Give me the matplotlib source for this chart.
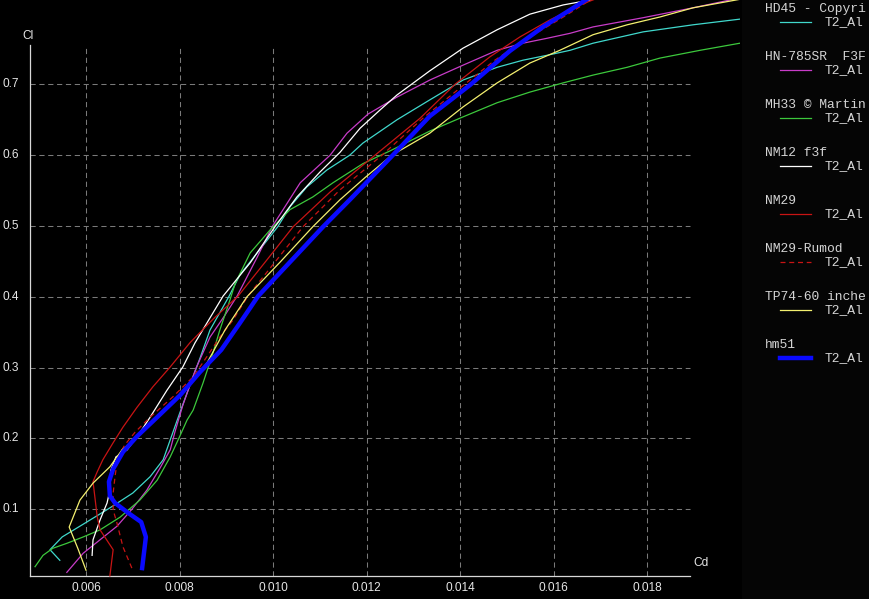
import matplotlib
matplotlib.use('Agg')
import matplotlib.pyplot as plt
from matplotlib.lines import Line2D
from matplotlib.patches import Rectangle
from matplotlib.transforms import offset_copy

# polars (Cd, Cl)
hd45_cd = [0.00544, 0.00523, 0.00549, 0.00594, 0.00651, 0.00700, 0.00737, 0.00765, 0.00780, 0.00801,
           0.00822, 0.00844, 0.00865, 0.00906, 0.00929, 0.00966, 0.01010, 0.01036, 0.01072, 0.01115,
           0.01164, 0.01192, 0.01265, 0.01335, 0.01406, 0.01479, 0.01534, 0.01586, 0.01635, 0.01684,
           0.01791, 0.01898, 0.01998]
hd45_cl = [0.028, 0.043, 0.061, 0.079, 0.102, 0.123, 0.146, 0.170, 0.198, 0.237,
           0.275, 0.314, 0.353, 0.401, 0.431, 0.462, 0.499, 0.527, 0.555, 0.579,
           0.600, 0.617, 0.650, 0.678, 0.706, 0.724, 0.734, 0.741, 0.748, 0.758,
           0.774, 0.784, 0.792]

hn785_cd = [0.00559, 0.00594, 0.00630, 0.00666, 0.00698, 0.00730, 0.00758, 0.00780, 0.00790, 0.00807,
            0.00835, 0.00865, 0.00897, 0.00923, 0.00966, 0.00998, 0.01058, 0.01122, 0.01158, 0.01203,
            0.01265, 0.01335, 0.01406, 0.01479, 0.01534, 0.01586, 0.01635, 0.01684, 0.01791, 0.01898,
            0.01998]
hn785_cl = [0.011, 0.038, 0.057, 0.076, 0.100, 0.127, 0.158, 0.184, 0.209, 0.247,
            0.299, 0.343, 0.374, 0.401, 0.456, 0.499, 0.561, 0.600, 0.631, 0.658,
            0.682, 0.706, 0.727, 0.748, 0.758, 0.765, 0.772, 0.781, 0.794, 0.808,
            0.822]

mh33_cd = [0.00491, 0.00508, 0.00529, 0.00559, 0.00594, 0.00630, 0.00673, 0.00715, 0.00752, 0.00780,
           0.00799, 0.00816, 0.00829, 0.00850, 0.00872, 0.00886, 0.00904, 0.00919, 0.00951, 0.00993,
           0.01036, 0.01085, 0.01128, 0.01192, 0.01250, 0.01335, 0.01406, 0.01479, 0.01549, 0.01620,
           0.01684, 0.01757, 0.01827, 0.01913, 0.01998]
mh33_cl = [0.019, 0.035, 0.045, 0.052, 0.061, 0.071, 0.089, 0.113, 0.141, 0.174,
           0.201, 0.226, 0.240, 0.278, 0.322, 0.353, 0.388, 0.419, 0.462, 0.494,
           0.523, 0.541, 0.561, 0.588, 0.606, 0.634, 0.654, 0.674, 0.689, 0.702,
           0.713, 0.724, 0.737, 0.748, 0.758]

nm12_cd = [0.00613, 0.00615, 0.00630, 0.00645, 0.00651, 0.00653, 0.00664, 0.00688, 0.00715, 0.00737,
           0.00773, 0.00807, 0.00833, 0.00893, 0.00951, 0.01004, 0.01051, 0.01100, 0.01143, 0.01186,
           0.01229, 0.01265, 0.01335, 0.01406, 0.01479, 0.01549, 0.01620, 0.01678]
nm12_cl = [0.035, 0.057, 0.085, 0.109, 0.127, 0.155, 0.174, 0.184, 0.208, 0.230,
           0.268, 0.301, 0.335, 0.401, 0.448, 0.499, 0.541, 0.576, 0.604, 0.638,
           0.664, 0.685, 0.719, 0.751, 0.777, 0.799, 0.812, 0.819]

nm29_cd = [0.00651, 0.00658, 0.00630, 0.00624, 0.00619, 0.00615, 0.00624, 0.00636, 0.00658, 0.00679,
           0.00709, 0.00743, 0.00780, 0.00822, 0.00874, 0.00925, 0.00983, 0.01043, 0.01122, 0.01218,
           0.01314, 0.01389, 0.01464, 0.01528, 0.01592, 0.01656, 0.01699]
nm29_cl = [0.006, 0.043, 0.071, 0.089, 0.117, 0.139, 0.153, 0.170, 0.194, 0.216,
           0.244, 0.273, 0.301, 0.335, 0.370, 0.401, 0.449, 0.499, 0.548, 0.600,
           0.652, 0.700, 0.739, 0.767, 0.791, 0.812, 0.823]

rumod_cd = [0.00698, 0.00679, 0.00666, 0.00658, 0.00658, 0.00662, 0.00668, 0.00683, 0.00705, 0.00737,
            0.00786, 0.00829, 0.00861, 0.00886, 0.00914, 0.00946, 0.01004, 0.01064, 0.01143, 0.01233,
            0.01320, 0.01400, 0.01474, 0.01539, 0.01603, 0.01645, 0.01678]
rumod_cl = [0.017, 0.047, 0.081, 0.099, 0.123, 0.146, 0.174, 0.191, 0.209, 0.230,
            0.259, 0.287, 0.318, 0.343, 0.367, 0.401, 0.449, 0.499, 0.551, 0.600,
            0.652, 0.695, 0.734, 0.763, 0.788, 0.805, 0.819]

tp74_cd = [0.00600, 0.00583, 0.00564, 0.00587, 0.00615, 0.00651, 0.00677, 0.00700, 0.00752, 0.00807,
           0.00859, 0.00897, 0.00944, 0.01015, 0.01085, 0.01143, 0.01196, 0.01254, 0.01335, 0.01406,
           0.01479, 0.01549, 0.01613, 0.01684, 0.01757, 0.01827, 0.01898, 0.01998]
tp74_cl = [0.014, 0.044, 0.075, 0.113, 0.137, 0.160, 0.184, 0.196, 0.230, 0.264,
           0.307, 0.353, 0.400, 0.449, 0.499, 0.537, 0.568, 0.600, 0.631, 0.668,
           0.702, 0.730, 0.748, 0.770, 0.784, 0.795, 0.808, 0.820]

hm51_cd = [0.00720, 0.00728, 0.00718, 0.00690, 0.00662, 0.00651, 0.00649, 0.00658, 0.00679, 0.00709,
           0.00752, 0.00801, 0.00844, 0.00889, 0.00929, 0.00968, 0.01036, 0.01107, 0.01164, 0.01256,
           0.01335, 0.01421, 0.01506, 0.01577, 0.01635, 0.01678]
hm51_cl = [0.017, 0.061, 0.082, 0.095, 0.109, 0.119, 0.139, 0.157, 0.181, 0.203,
           0.230, 0.261, 0.294, 0.325, 0.363, 0.401, 0.449, 0.499, 0.537, 0.600,
           0.655, 0.699, 0.747, 0.781, 0.805, 0.823]

# legend names as far as the panel shows them
foil_names = ['HD45 - Copyri', 'HN-785SR  F3F', 'MH33 \u00a9 Martin', 'NM12 f3f',
              'NM29', 'NM29-Rumod', 'TP74-60 inche', 'hm51']
polar_name = 'T2_Al'
xticks = [0.006, 0.008, 0.010, 0.012, 0.014, 0.016, 0.018]
yticks = [0.1, 0.2, 0.3, 0.4, 0.5, 0.6, 0.7]

curves = [
    (hd45_cd, hd45_cl, '#40d8cc', '-', 0.9),
    (hn785_cd, hn785_cl, '#c83cc8', '-', 0.9),
    (mh33_cd, mh33_cl, '#3cc83c', '-', 0.9),
    (nm12_cd, nm12_cl, '#ffffff', '-', 0.9),
    (nm29_cd, nm29_cl, '#c81414', '-', 0.9),
    (rumod_cd, rumod_cl, '#c81414', (0, (4, 3)), 0.9),
    (tp74_cd, tp74_cl, '#f4f070', '-', 0.9),
    (hm51_cd, hm51_cl, '#0a0aff', '-', 3.2),
]

W, H = 870, 599
fig = plt.figure(figsize=(W / 100, H / 100), dpi=100, facecolor='black')
ax = fig.add_axes([0, 0, 740 / W, 1])
ax.set_facecolor('black')

x0, x1 = 0.004803, 0.018913   # ends of the Cd axis line
y0, y1 = 0.00583, 0.7555      # ends of the Cl axis line
ax.set_xlim(0.004161, 0.019982)
ax.set_ylim(-0.0266, 0.8190)

for s in ['top', 'right']:
    ax.spines[s].set_visible(False)
ax.spines['left'].set_position(('data', x0))
ax.spines['left'].set_bounds(y0, y1)
ax.spines['bottom'].set_position(('data', y0))
ax.spines['bottom'].set_bounds(x0, x1)
for s in ['left', 'bottom']:
    ax.spines[s].set_color('#d8d8d8')
    ax.spines[s].set_linewidth(0.9)
ax.set_xticks([])
ax.set_yticks([])

grid_kw = dict(colors='#7a7a7a', linewidth=0.75, linestyles=(0, (5, 3.5)), zorder=1)
ax.vlines(xticks, y0, y1, **grid_kw)
ax.hlines(yticks, x0, x1, **grid_kw)

for cd, cl, col, ls, lw in curves:
    ax.plot(cd, cl, color=col, linestyle=ls, linewidth=lw, zorder=3)

lab_kw = dict(color='#e6e6e6', fontsize=8.6, family='Liberation Sans')
tx = offset_copy(ax.transData, fig=fig, x=0, y=-12, units='dots')
for v in xticks:
    ax.text(v, y0, f'{v:.3f}', transform=tx, ha='center', va='center', **lab_kw)
ty = offset_copy(ax.transData, fig=fig, x=-11, y=0, units='dots')
for v in yticks:
    ax.text(x0, v, f'{v:.1f}', transform=ty, ha='right', va='center', **lab_kw)
ax.text(x0, y1, 'Cl', transform=offset_copy(ax.transData, fig=fig, x=-2, y=9, units='dots'),
        ha='center', va='center', **lab_kw)
ax.text(x1, y0, 'Cd', transform=offset_copy(ax.transData, fig=fig, x=3, y=13, units='dots'),
        ha='left', va='center', **lab_kw)

# legend panel on the right
fig.add_artist(Rectangle((742 / W, 0), (W - 742) / W, 1, transform=fig.transFigure,
                         facecolor='#050505', edgecolor='none', zorder=0))
for i, (name, (cd, cl, col, ls, lw)) in enumerate(zip(foil_names, curves)):
    yt = 9 + 48 * i
    yl = yt + 13
    fig.text(765 / W, 1 - yt / H, name, color='#d4d4d4', fontsize=9.4,
             family='Liberation Mono', ha='left', va='center')
    fig.add_artist(Line2D([780 / W, 811 / W], [1 - yl / H] * 2, transform=fig.transFigure,
                          color=col, linestyle=ls, linewidth=lw))
    fig.text(825 / W, 1 - yl / H, polar_name, color='#d4d4d4', fontsize=9.4,
             family='Liberation Mono', ha='left', va='center')

fig.savefig('out.png', dpi=100, facecolor='black')
